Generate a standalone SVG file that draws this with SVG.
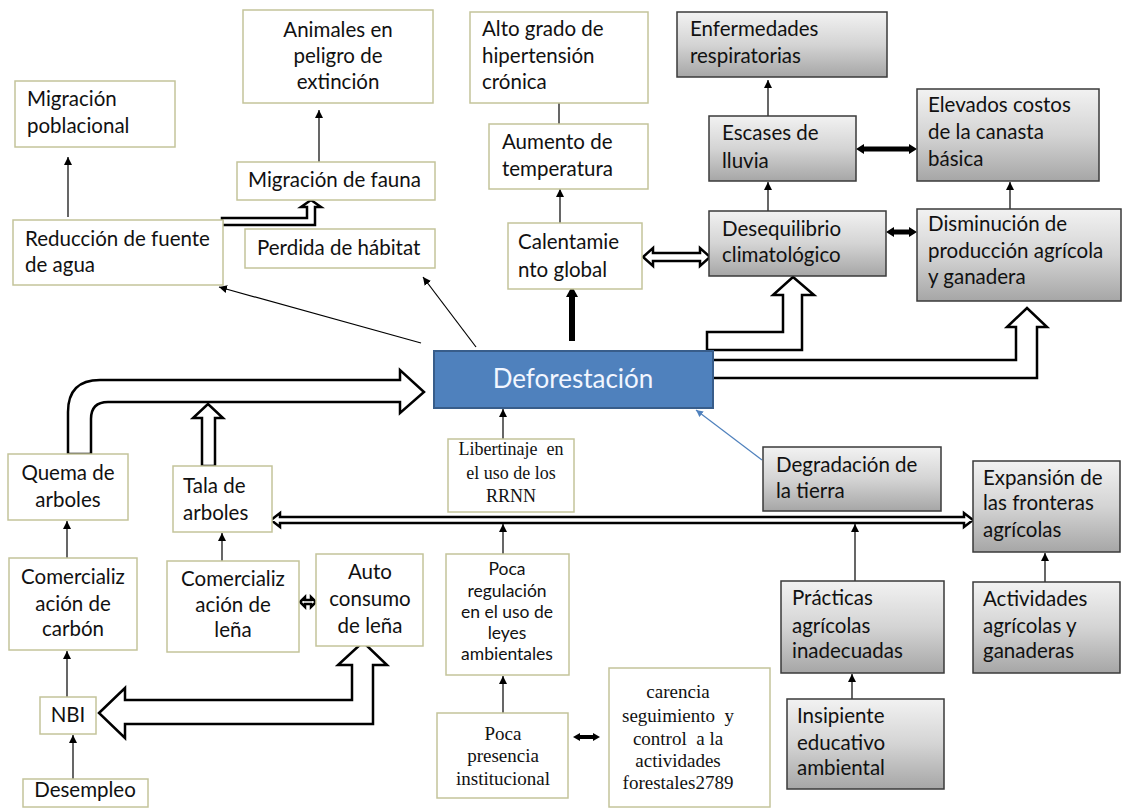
<svg xmlns="http://www.w3.org/2000/svg" width="1123" height="808" viewBox="0 0 1123 808">
<defs>
<linearGradient id="gray" x1="0" y1="0" x2="0" y2="1">
<stop offset="0" stop-color="#f2f2f2"/>
<stop offset="0.5" stop-color="#d4d4d4"/>
<stop offset="1" stop-color="#a6a6a6"/>
</linearGradient>
<marker id="ah" viewBox="0 0 10 10" refX="10" refY="5" markerWidth="8" markerHeight="8" orient="auto" markerUnits="userSpaceOnUse">
<path d="M0,0 L10,5 L0,10 z" fill="#000"/>
</marker>
<marker id="ahb" viewBox="0 0 10 10" refX="10" refY="5" markerWidth="7" markerHeight="7" orient="auto" markerUnits="userSpaceOnUse">
<path d="M0,0 L10,5 L0,10 z" fill="#4f81bd"/>
</marker>
</defs>
<style>
.w{fill:#fff;stroke:#c4c49a;stroke-width:1.5}
.g{fill:url(#gray);stroke:#3a3a3a;stroke-width:1.5}
.t{font-family:Lato,"Liberation Sans",sans-serif;font-size:20.5px;fill:#111}
.t2{font-family:Lato,"Liberation Sans",sans-serif;font-size:17.5px;fill:#111;text-anchor:middle}
.c{text-anchor:middle}
.s{font-family:"Liberation Serif",serif;font-size:19px;fill:#111;text-anchor:middle;white-space:pre}
.s2{font-family:"Liberation Serif",serif;font-size:18px;fill:#111;text-anchor:middle;white-space:pre}
.ln{stroke:#000;stroke-width:1.2;fill:none;marker-end:url(#ah)}
.ho{fill:#fff;stroke:#000;stroke-width:2.5;stroke-linejoin:miter}
.bk{fill:#000}
</style>
<rect width="1123" height="808" fill="#fff"/>

<g id="connectors">
<line class="ln" x1="68" y1="217" x2="68" y2="157"/>
<line class="ln" x1="319" y1="162" x2="319" y2="110"/>
<line class="ln" x1="559" y1="124" x2="559" y2="83"/>
<line class="ln" x1="560" y1="223" x2="560" y2="189"/>
<line class="ln" x1="768" y1="116" x2="768" y2="80"/>
<line class="ln" x1="768" y1="211" x2="768" y2="182"/>
<line class="ln" x1="1010" y1="209" x2="1010" y2="182"/>
<line class="ln" x1="421" y1="343" x2="219" y2="287"/>
<line class="ln" x1="476" y1="347" x2="423" y2="277"/>
<line class="ln" x1="503" y1="462" x2="503" y2="409"/>
<line class="ln" x1="503" y1="555" x2="503" y2="524"/>
<line class="ln" x1="503" y1="713" x2="503" y2="676"/>
<line class="ln" x1="67" y1="558" x2="67" y2="521"/>
<line class="ln" x1="222" y1="561" x2="222" y2="533"/>
<line class="ln" x1="67" y1="697" x2="67" y2="651"/>
<line class="ln" x1="73" y1="779" x2="73" y2="735"/>
<line class="ln" x1="855" y1="581" x2="855" y2="524"/>
<line class="ln" x1="852" y1="699" x2="852" y2="674"/>
<line class="ln" x1="1045" y1="582" x2="1045" y2="553"/>
<line x1="762" y1="460" x2="696" y2="410" stroke="#4f81bd" stroke-width="1.2" marker-end="url(#ahb)"/>
<line x1="572" y1="341" x2="572" y2="296" stroke="#000" stroke-width="6"/>
<path class="bk" d="M566,297 L572,286 L578,297 Z"/>
<path class="ho" stroke-width="2.2" d="M643,257 L653,248 L653,253 L700,253 L700,248 L710,257 L700,266 L700,261 L653,261 L653,266 Z"/>
<line x1="862" y1="149" x2="911" y2="149" stroke="#000" stroke-width="5"/>
<path class="bk" d="M856,149 L864,144 L864,154 Z M917,149 L909,144 L909,154 Z"/>
<line x1="892" y1="232" x2="911" y2="232" stroke="#000" stroke-width="5"/>
<path class="bk" d="M886,232 L894,227 L894,237 Z M917,232 L909,227 L909,237 Z"/>
<line x1="579" y1="737" x2="594" y2="737" stroke="#000" stroke-width="4"/>
<path class="bk" d="M573,737 L580,733 L580,741 Z M600,737 L593,733 L593,741 Z"/>
<path class="ho" stroke-width="2" d="M222,218 L307,218 L307,207 L301,207 L311,200 L321,207 L315,207 L315,225 L222,225 Z"/>
<path class="ho" d="M707,332 L783,332 L783,295 L773,295 L793,277 L814,295 L802,295 L802,350 L707,350 Z"/>
<path class="ho" d="M705,360 L1016,360 L1016,327 L1007,327 L1027,308 L1047,327 L1037,327 L1037,378 L705,378 Z"/>
<path class="ho" stroke-width="3" d="M68,454 L68,412 Q68,380 100,380 L400,380 L400,370 L424,392 L400,413 L400,402 L108,402 Q91,402 91,419 L91,454 Z"/>
<path class="ho" stroke-width="2.5" d="M202,466 L202,418 L193,418 L208,404 L223,418 L215,418 L215,466 Z"/>
<path class="ho" stroke-width="3" d="M99,713 L125,688 L125,700 L352,700 L352,665 L338,665 L363,642 L387,665 L373,665 L373,724 L125,724 L125,738 Z"/>
<path class="ho" stroke-width="1.8" d="M300,602 L305,597 L305,600 L311,600 L311,597 L316,602 L311,607 L311,604 L305,604 L305,607 Z"/>
<path class="ho" stroke-width="2" d="M271,520 L280,513 L280,517 L964,517 L964,513 L973,520 L964,527 L964,523 L280,523 L280,527 Z"/>
</g>

<g id="n-migracion-poblacional"><rect class="w" x="15" y="81" width="160" height="66"/><text class="t" x="27" y="106">Migración</text><text class="t" x="27" y="133">poblacional</text></g>
<g id="n-animales"><rect class="w" x="243" y="10" width="190" height="93"/><text class="t c" x="338" y="37">Animales en</text><text class="t c" x="338" y="63">peligro de</text><text class="t c" x="338" y="89">extinción</text></g>
<g id="n-migracion-fauna"><rect class="w" x="237" y="162" width="198" height="38"/><text class="t" x="248" y="187">Migración de fauna</text></g>
<g id="n-reduccion"><rect class="w" x="13" y="220" width="210" height="65"/><text class="t" x="25" y="246">Reducción de fuente</text><text class="t" x="25" y="272">de agua</text></g>
<g id="n-perdida"><rect class="w" x="245" y="229" width="190" height="39"/><text class="t" x="257" y="255">Perdida de hábitat</text></g>
<g id="n-alto-grado"><rect class="w" x="470" y="12" width="178" height="91"/><text class="t" x="482" y="36">Alto grado de</text><text class="t" x="482" y="63">hipertensión</text><text class="t" x="482" y="89">crónica</text></g>
<g id="n-aumento"><rect class="w" x="489" y="124" width="159" height="65"/><text class="t" x="502" y="149">Aumento de</text><text class="t" x="502" y="176">temperatura</text></g>
<g id="n-calentamiento"><rect class="w" x="508" y="223" width="134" height="66"/><text class="t" x="518" y="249">Calentamie</text><text class="t" x="518" y="277">nto global</text></g>
<g id="n-enfermedades"><rect class="g" x="677" y="12" width="210" height="65"/><text class="t" x="690" y="36">Enfermedades</text><text class="t" x="690" y="63">respiratorias</text></g>
<g id="n-escases"><rect class="g" x="709" y="116" width="147" height="65"/><text class="t" x="722" y="140">Escases de</text><text class="t" x="722" y="168">lluvia</text></g>
<g id="n-elevados"><rect class="g" x="917" y="89" width="182" height="92"/><text class="t" x="928" y="112">Elevados costos</text><text class="t" x="928" y="139">de la canasta</text><text class="t" x="928" y="166">básica</text></g>
<g id="n-desequilibrio"><rect class="g" x="709" y="211" width="177" height="65"/><text class="t" x="722" y="236">Desequilibrio</text><text class="t" x="722" y="262">climatológico</text></g>
<g id="n-disminucion"><rect class="g" x="917" y="209" width="204" height="92"/><text class="t" x="928" y="231">Disminución de</text><text class="t" x="928" y="258">producción agrícola</text><text class="t" x="928" y="284">y ganadera</text></g>
<g id="n-deforestacion"><rect x="434" y="351" width="279" height="57" fill="#4f81bd" stroke="#385d8a" stroke-width="2"/><text x="573" y="388" text-anchor="middle" font-family="Lato,'Liberation Sans',sans-serif" font-size="26" fill="#f2f6ff">Deforestación</text></g>
<g id="n-degradacion"><rect class="g" x="763" y="447" width="178" height="64"/><text class="t" x="776" y="472">Degradación de</text><text class="t" x="776" y="498">la tierra</text></g>
<g id="n-expansion"><rect class="g" x="973" y="461" width="147" height="91"/><text class="t" x="983" y="485">Expansión de</text><text class="t" x="983" y="510">las fronteras</text><text class="t" x="983" y="537">agrícolas</text></g>
<g id="n-libertinaje"><rect class="w" x="448" y="439" width="126" height="73"/><text class="s2" x="511" y="455">Libertinaje  en</text><text class="s2" x="511" y="479">el uso de los</text><text class="s2" x="511" y="502">RRNN</text></g>
<g id="n-quema"><rect class="w" x="8" y="454" width="120" height="66"/><text class="t c" x="68" y="480">Quema de</text><text class="t c" x="68" y="507">arboles</text></g>
<g id="n-tala"><rect class="w" x="173" y="466" width="99" height="66"/><text class="t" x="183" y="493">Tala de</text><text class="t" x="183" y="520">arboles</text></g>
<g id="n-com-carbon"><rect class="w" x="9" y="558" width="128" height="92"/><text class="t c" x="73" y="584">Comercializ</text><text class="t c" x="73" y="611">ación de</text><text class="t c" x="73" y="636">carbón</text></g>
<g id="n-com-lena"><rect class="w" x="167" y="561" width="132" height="91"/><text class="t c" x="233" y="586">Comercializ</text><text class="t c" x="233" y="612">ación de</text><text class="t c" x="233" y="637">leña</text></g>
<g id="n-auto"><rect class="w" x="316" y="554" width="107" height="92"/><text class="t c" x="370" y="579">Auto</text><text class="t c" x="370" y="606">consumo</text><text class="t c" x="370" y="633">de leña</text></g>
<g id="n-nbi"><rect class="w" x="40" y="697" width="56" height="37"/><text class="t c" x="68" y="722">NBI</text></g>
<g id="n-desempleo"><rect class="w" x="23" y="779" width="125" height="28"/><text class="t c" x="85" y="797">Desempleo</text></g>
<g id="n-poca-regulacion"><rect class="w" x="446" y="554" width="123" height="121"/><text class="t2" x="507" y="575">Poca</text><text class="t2" x="507" y="597">regulación</text><text class="t2" x="507" y="618">en el uso de</text><text class="t2" x="507" y="639">leyes</text><text class="t2" x="507" y="660">ambientales</text></g>
<g id="n-poca-presencia"><rect class="w" x="437" y="713" width="131" height="85"/><text class="s" x="503" y="740">Poca</text><text class="s" x="503" y="762">presencia</text><text class="s" x="503" y="785">institucional</text></g>
<g id="n-carencia"><rect class="w" x="609" y="668" width="161" height="139"/><text class="s" x="678" y="698">carencia</text><text class="s" x="678" y="722">seguimiento  y</text><text class="s" x="678" y="745">control  a la</text><text class="s" x="678" y="767">actividades</text><text class="s" x="678" y="789">forestales2789</text></g>
<g id="n-practicas"><rect class="g" x="781" y="581" width="163" height="92"/><text class="t" x="792" y="605">Prácticas</text><text class="t" x="792" y="633">agrícolas</text><text class="t" x="792" y="658">inadecuadas</text></g>
<g id="n-actividades"><rect class="g" x="973" y="582" width="147" height="91"/><text class="t" x="983" y="606">Actividades</text><text class="t" x="983" y="633">agrícolas y</text><text class="t" x="983" y="658">ganaderas</text></g>
<g id="n-insipiente"><rect class="g" x="787" y="699" width="157" height="90"/><text class="t" x="797" y="723">Insipiente</text><text class="t" x="797" y="750">educativo</text><text class="t" x="797" y="775">ambiental</text></g>
</svg>
